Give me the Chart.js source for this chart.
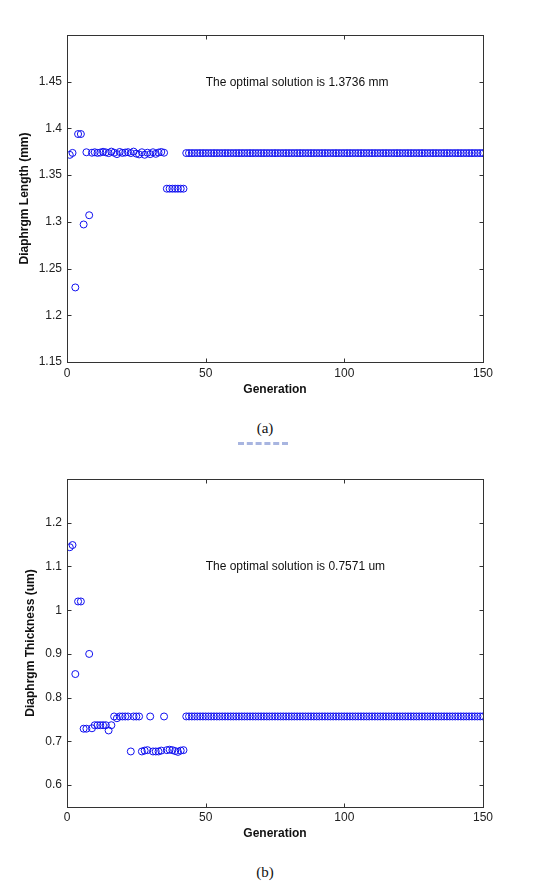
<!DOCTYPE html>
<html>
<head>
<meta charset="utf-8">
<script src="https://cdn.jsdelivr.net/npm/chart.js@4"></script>
<style>
  body { margin: 0; background: #fff; width: 533px; height: 882px; position: relative; overflow: hidden; }
  .wrap { position: absolute; left: 0; width: 533px; }
  #wrapA { top: 0; height: 400px; }
  #wrapB { top: 440px; height: 410px; }
  .cap { position: absolute; left: 0; width: 530px; text-align: center; font-family: "Liberation Serif", "Times New Roman", serif; font-size: 15px; line-height: 18px; color: #111; }
  .smudge { position: absolute; left: 238px; top: 442px; width: 50px; border-top: 3px dashed #a8b5e0; }
</style>
</head>
<body>
<div class="wrap" id="wrapA"><canvas id="chartA"></canvas></div>
<div class="cap" style="top:419px">(a)</div>
<div class="smudge"></div>
<div class="wrap" id="wrapB"><canvas id="chartB"></canvas></div>
<div class="cap" style="top:863px">(b)</div>
<script>
const FONT = '"Liberation Sans", Arial, sans-serif';

// tick labels
const genTicks = [0, 50, 100, 150];
const lengthTicks = [1.15, 1.2, 1.25, 1.3, 1.35, 1.4, 1.45];
const thicknessTicks = [0.6, 0.7, 0.8, 0.9, 1.0, 1.1, 1.2];

// best individual per generation (1..150)
const lengthMm = [
  1.3717, 1.3738, 1.2298, 1.3940, 1.3940, 1.2972, 1.3745, 1.3071,
  1.3740, 1.3745, 1.3738, 1.3742, 1.3750, 1.3744, 1.3736, 1.3752, 1.3740, 1.3725,
  1.3748, 1.3738, 1.3742, 1.3746, 1.3736, 1.3752, 1.3730, 1.3722, 1.3745, 1.3718,
  1.3740, 1.3725, 1.3745, 1.3728, 1.3742, 1.3748, 1.3740,
  1.3355, 1.3355, 1.3355, 1.3355, 1.3355, 1.3355, 1.3355,
  1.3736, 1.3736, 1.3736, 1.3736, 1.3736, 1.3736, 1.3736, 1.3736, 1.3736, 1.3736, 1.3736, 1.3736,
  1.3736, 1.3736, 1.3736, 1.3736, 1.3736, 1.3736, 1.3736, 1.3736, 1.3736, 1.3736, 1.3736, 1.3736,
  1.3736, 1.3736, 1.3736, 1.3736, 1.3736, 1.3736, 1.3736, 1.3736, 1.3736, 1.3736, 1.3736, 1.3736,
  1.3736, 1.3736, 1.3736, 1.3736, 1.3736, 1.3736, 1.3736, 1.3736, 1.3736, 1.3736, 1.3736, 1.3736,
  1.3736, 1.3736, 1.3736, 1.3736, 1.3736, 1.3736, 1.3736, 1.3736, 1.3736, 1.3736, 1.3736, 1.3736,
  1.3736, 1.3736, 1.3736, 1.3736, 1.3736, 1.3736, 1.3736, 1.3736, 1.3736, 1.3736, 1.3736, 1.3736,
  1.3736, 1.3736, 1.3736, 1.3736, 1.3736, 1.3736, 1.3736, 1.3736, 1.3736, 1.3736, 1.3736, 1.3736,
  1.3736, 1.3736, 1.3736, 1.3736, 1.3736, 1.3736, 1.3736, 1.3736, 1.3736, 1.3736, 1.3736, 1.3736,
  1.3736, 1.3736, 1.3736, 1.3736, 1.3736, 1.3736, 1.3736, 1.3736, 1.3736, 1.3736, 1.3736, 1.3736
];

const thicknessUm = [
  1.144, 1.149, 0.854, 1.020, 1.020, 0.729, 0.729, 0.900,
  0.730, 0.737, 0.737, 0.737, 0.737, 0.737, 0.725, 0.737,
  0.757, 0.753, 0.757, 0.757, 0.757, 0.757, 0.677, 0.757, 0.757, 0.757, 0.677, 0.679, 0.680,
  0.757, 0.677, 0.677, 0.677, 0.679, 0.757, 0.680, 0.681, 0.680, 0.678, 0.676, 0.679, 0.680,
  0.7571, 0.7571, 0.7571, 0.7571, 0.7571, 0.7571, 0.7571, 0.7571, 0.7571, 0.7571, 0.7571, 0.7571,
  0.7571, 0.7571, 0.7571, 0.7571, 0.7571, 0.7571, 0.7571, 0.7571, 0.7571, 0.7571, 0.7571, 0.7571,
  0.7571, 0.7571, 0.7571, 0.7571, 0.7571, 0.7571, 0.7571, 0.7571, 0.7571, 0.7571, 0.7571, 0.7571,
  0.7571, 0.7571, 0.7571, 0.7571, 0.7571, 0.7571, 0.7571, 0.7571, 0.7571, 0.7571, 0.7571, 0.7571,
  0.7571, 0.7571, 0.7571, 0.7571, 0.7571, 0.7571, 0.7571, 0.7571, 0.7571, 0.7571, 0.7571, 0.7571,
  0.7571, 0.7571, 0.7571, 0.7571, 0.7571, 0.7571, 0.7571, 0.7571, 0.7571, 0.7571, 0.7571, 0.7571,
  0.7571, 0.7571, 0.7571, 0.7571, 0.7571, 0.7571, 0.7571, 0.7571, 0.7571, 0.7571, 0.7571, 0.7571,
  0.7571, 0.7571, 0.7571, 0.7571, 0.7571, 0.7571, 0.7571, 0.7571, 0.7571, 0.7571, 0.7571, 0.7571,
  0.7571, 0.7571, 0.7571, 0.7571, 0.7571, 0.7571, 0.7571, 0.7571, 0.7571, 0.7571, 0.7571, 0.7571
];

// matlab-ish box with inward ticks + the text note
const framePlugin = {
  id: 'frame',
  afterDraw(chart, args, opts) {
    const { ctx, chartArea: a, scales: { x, y } } = chart;
    const L = Math.round(a.left) + 0.5, R = Math.round(a.right) + 0.5;
    const T = Math.round(a.top) + 0.5, B = Math.round(a.bottom) + 0.5;
    ctx.save();
    ctx.strokeStyle = '#333';
    ctx.lineWidth = 1;
    ctx.strokeRect(L, T, R - L, B - T);
    ctx.beginPath();
    x.ticks.forEach(t => {
      const px = Math.round(x.getPixelForValue(t.value)) + 0.5;
      ctx.moveTo(px, B); ctx.lineTo(px, B - 4);
      ctx.moveTo(px, T); ctx.lineTo(px, T + 4);
    });
    y.ticks.forEach(t => {
      const py = Math.round(y.getPixelForValue(t.value)) + 0.5;
      ctx.moveTo(L, py); ctx.lineTo(L + 4, py);
      ctx.moveTo(R, py); ctx.lineTo(R - 4, py);
    });
    ctx.stroke();
    ctx.fillStyle = '#111';
    ctx.font = '12px ' + FONT;
    ctx.textAlign = 'left';
    ctx.textBaseline = 'middle';
    ctx.fillText(opts.text, x.getPixelForValue(opts.at[0]), y.getPixelForValue(opts.at[1]));
    ctx.restore();
  }
};

function makeChart(canvasId, values, yTicks, yMin, yMax, yTitle, note, noteAt, lay) {
  const points = values.map((v, i) => ({ x: i + 1, y: v }));
  return new Chart(document.getElementById(canvasId), {
    type: 'scatter',
    data: {
      datasets: [{
        data: points,
        pointStyle: 'circle',
        pointRadius: 3.5,
        pointBorderWidth: 1,
        pointBorderColor: '#1010f0',
        pointBackgroundColor: 'transparent',
      }],
    },
    options: {
      responsive: true,
      maintainAspectRatio: false,
      animation: false,
      layout: { padding: { top: lay.top, right: 50, left: 0, bottom: 0 } },
      plugins: {
        legend: { display: false },
        tooltip: { enabled: false },
        frame: { text: note, at: noteAt },
      },
      scales: {
        x: {
          type: 'linear',
          min: 0,
          max: 150,
          afterBuildTicks: s => { s.ticks = genTicks.map(v => ({ value: v })); },
          afterFit: s => { s.height = lay.xHeight; },
          grid: { display: false, drawTicks: false },
          border: { display: false },
          ticks: { font: { size: 12, family: FONT }, color: '#222', padding: lay.xTickPad, maxRotation: 0 },
          title: {
            display: true, text: 'Generation', color: '#111',
            font: { size: 12, weight: 'bold', family: FONT },
            padding: { top: 0, bottom: lay.xTitlePad },
          },
        },
        y: {
          type: 'linear',
          min: yMin,
          max: yMax,
          afterBuildTicks: s => { s.ticks = yTicks.map(v => ({ value: v })); },
          afterFit: s => { s.width = 67; },
          grid: { display: false, drawTicks: false },
          border: { display: false },
          ticks: {
            font: { size: 12, family: FONT }, color: '#222', padding: 5,
            callback: v => String(+v.toFixed(2)),
          },
          title: {
            display: true, text: yTitle, color: '#111',
            font: { size: 12, weight: 'bold', family: FONT },
            padding: { top: lay.yTitlePad, bottom: 0 },
          },
        },
      },
    },
    plugins: [framePlugin],
  });
}

makeChart('chartA', lengthMm, lengthTicks, 1.15, 1.5, 'Diaphrgm Length (mm)',
  'The optimal solution is 1.3736 mm', [50, 1.449],
  { top: 35, xHeight: 38, xTickPad: 4, xTitlePad: 3, yTitlePad: 17 });

makeChart('chartB', thicknessUm, thicknessTicks, 0.55, 1.3, 'Diaphrgm Thickness (um)',
  'The optimal solution is 0.7571 um', [50, 1.1],
  { top: 39, xHeight: 43, xTickPad: 3, xTitlePad: 9, yTitlePad: 23 });
</script>
</body>
</html>
